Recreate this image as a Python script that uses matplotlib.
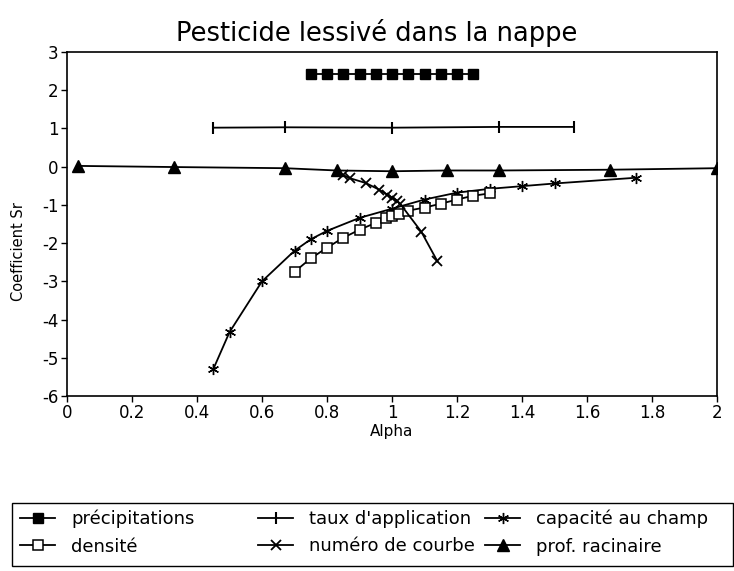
import matplotlib
matplotlib.use("Agg")
import matplotlib.pyplot as plt
from matplotlib.patches import Rectangle

plt.rcParams['font.family'] = ['DejaVu Sans']
plt.rcParams['axes.unicode_minus'] = False

title = "Pesticide lessivé dans la nappe"
xlabel = "Alpha"
ylabel = "Coefficient Sr"

precip_x = [0.75, 0.80, 0.85, 0.90, 0.95, 1.00, 1.05, 1.10, 1.15, 1.20, 1.25]
precip_y = [2.42, 2.42, 2.42, 2.42, 2.42, 2.42, 2.42, 2.42, 2.42, 2.42, 2.42]

taux_x = [0.45, 0.67, 1.00, 1.33, 1.56]
taux_y = [1.02, 1.03, 1.02, 1.04, 1.04]

cap_x = [0.45, 0.5, 0.6, 0.7, 0.75, 0.8, 0.9, 1.0, 1.1, 1.2, 1.3, 1.4, 1.5, 1.75]
cap_y = [-5.3, -4.33, -3.0, -2.2, -1.9, -1.68, -1.34, -1.1, -0.86, -0.68, -0.58, -0.51, -0.44, -0.29]

dens_x = [0.7, 0.75, 0.8, 0.85, 0.9, 0.95, 0.98, 1.0, 1.02, 1.05, 1.1, 1.15, 1.2, 1.25, 1.3]
dens_y = [-2.75, -2.4, -2.12, -1.86, -1.65, -1.47, -1.35, -1.28, -1.23, -1.15, -1.07, -0.97, -0.86, -0.76, -0.70]

num_x = [0.85, 0.87, 0.92, 0.96, 0.985, 1.0, 1.015, 1.025, 1.09, 1.14]
num_y = [-0.22, -0.30, -0.43, -0.60, -0.73, -0.81, -0.89, -0.97, -1.70, -2.48]

prof_x = [0.033, 0.33, 0.67, 0.83, 1.0, 1.17, 1.33, 1.67, 2.0]
prof_y = [0.02, -0.01, -0.04, -0.10, -0.12, -0.10, -0.10, -0.08, -0.04]

labels = ["précipitations", "taux d'application", "capacité au champ",
          "densité", "numéro de courbe", "prof. racinaire"]

W, H = 734, 571
fig = plt.figure(figsize=(W/100, H/100), dpi=100)
ax = fig.add_axes([67/W, 1-396/H, (717-67)/W, (396-52)/H])

lw = 1.3
h_pre, = ax.plot(precip_x, precip_y, color='black', lw=lw, marker='s', ms=6.5,
                 mfc='black', mec='black')
h_taux, = ax.plot(taux_x, taux_y, color='black', lw=lw, marker='|', ms=9, mew=1.5)
h_cap, = ax.plot(cap_x, cap_y, color='black', lw=lw, marker=(6, 2, 0), ms=8, mew=1.0)
h_den, = ax.plot(dens_x, dens_y, color='black', lw=lw, marker='s', ms=7.5,
                 mfc='white', mec='black', mew=1.1)
h_num, = ax.plot(num_x, num_y, color='black', lw=lw, marker='x', ms=7, mew=1.3)
h_prof, = ax.plot(prof_x, prof_y, color='black', lw=lw, marker='^', ms=9,
                  mfc='black', mec='black')

ax.set_xlim(0, 2)
ax.set_ylim(-6, 3)
ax.set_xticks([0, 0.2, 0.4, 0.6, 0.8, 1, 1.2, 1.4, 1.6, 1.8, 2])
ax.set_xticklabels(["0", "0.2", "0.4", "0.6", "0.8", "1", "1.2", "1.4", "1.6", "1.8", "2"])
ax.set_yticks(range(-6, 4))
ax.tick_params(direction='out', length=4, width=1, labelsize=12, colors='black', pad=2)
for s in ax.spines.values():
    s.set_linewidth(1.2)
    s.set_color('black')

ax.set_title(title, fontsize=18.5, pad=8, x=(377-67)/650)
ax.set_xlabel(xlabel, fontsize=11, labelpad=1)
ax.set_ylabel(ylabel, fontsize=10.5, labelpad=6)
ax.yaxis.set_label_coords(-0.063, (396-252)/(396-52))

# legend frame
fig.patches.append(Rectangle((12/W, 1-566/H), (733-12)/W, (566-503)/H,
                             transform=fig.transFigure, fill=False,
                             edgecolor='black', lw=1.0))

cols = [([h_pre, h_den], [labels[0], labels[3]], 20),
        ([h_taux, h_num], [labels[1], labels[4]], 258),
        ([h_cap, h_prof], [labels[2], labels[5]], 485)]
for hs, ls, x0 in cols:
    lg = fig.legend(hs, ls, loc='upper left', bbox_to_anchor=(x0/W, 1-510/H),
                    frameon=False, fontsize=13, handlelength=1.95,
                    handletextpad=0.9, borderpad=0, borderaxespad=0,
                    labelspacing=0.5)

fig.savefig("out.png", dpi=100, facecolor='white')
